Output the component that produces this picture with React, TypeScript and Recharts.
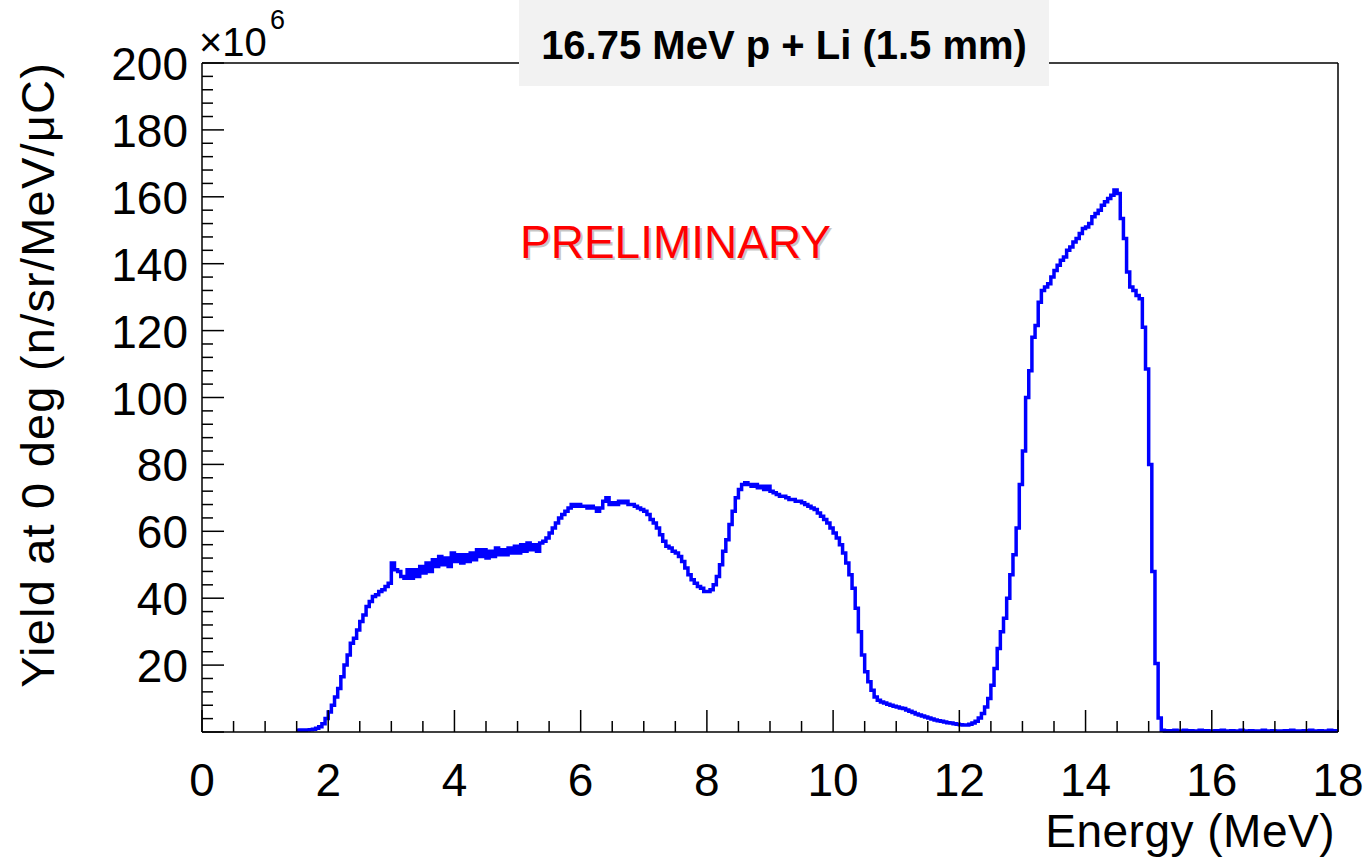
import React from "react";
import { LineChart, Line, XAxis, YAxis, ReferenceLine } from "recharts";

// Histogram: yield at 0 deg (x10^6 n/sr/MeV/uC), bins of 0.05 MeV starting at 1.50 MeV
const binStart = 1.5;
const binWidth = 0.05;
const yieldValues: number[] = [
  // 1.50 - 2.95
  0.5, 0.6, 0.5, 0.6, 0.7, 0.8, 1.1, 1.6, 2.5, 4,
  6, 8, 10.5, 13, 16.5, 20, 23, 26.5, 28, 30.5,
  33, 35, 37.5, 39, 40.5, 41, 42, 42.5, 43.5, 44.5,
  // 3.00 - 5.45
  50.5, 48.5, 48, 46.5, 46, 48.5, 46, 48.5, 46.5, 49.5,
  47.5, 50.5, 48, 51.5, 49.5, 52.5, 50, 52, 49.5, 53.5,
  51, 53, 50.5, 53, 51, 53.5, 51.5, 54.5, 52.5, 54.5,
  52, 54, 52.5, 55, 53, 54.5, 53, 55, 53.5, 55.5,
  53.5, 56, 54, 56.5, 54.5, 56, 54, 56.5, 57, 58,
  // 5.50 - 7.95
  59.5, 61, 62.5, 64, 65, 66, 67, 68, 67.5, 68,
  67.5, 67.5, 67, 67.5, 67, 66, 67, 69, 70, 68,
  68.5, 68, 69, 68.5, 69, 68, 68, 67.5, 67, 66.5,
  66, 65, 63.5, 62.5, 61, 59, 57, 55.5, 55, 54,
  53.5, 52.5, 51, 49, 47, 45.5, 44.5, 43.5, 43, 42,
  // 8.00 - 10.45
  42, 42.5, 44, 46.5, 50, 54, 57.5, 62, 66, 70,
  72.5, 74, 74.5, 74, 73.5, 74, 73, 73.5, 72.5, 73.5,
  72, 71.5, 71, 70.5, 70.5, 70, 69.5, 69.5, 69, 69,
  68.5, 68, 67.5, 67, 66.5, 65.5, 64.5, 63.5, 62.5, 61,
  59.5, 58, 56, 53.5, 50.5, 47, 43, 37, 30, 23,
  // 10.50 - 12.95
  18, 15, 12.5, 10.5, 9.5, 9, 8.7, 8.3, 8, 7.7,
  7.5, 7.2, 7, 6.6, 6.2, 5.8, 5.4, 5.1, 4.8, 4.5,
  4.2, 3.9, 3.6, 3.4, 3.2, 3.0, 2.8, 2.7, 2.5, 2.3,
  2.2, 2.1, 2.1, 2.3, 2.7, 3.2, 4.2, 5.5, 7.5, 10,
  14, 19, 25, 30, 34, 40, 47, 53, 61, 74,
  // 13.00 - 15.45
  84, 100, 108, 118, 121.5, 128.5, 132, 133, 134, 136,
  138, 139.5, 141, 142, 144, 145, 146.5, 147.5, 149, 150.5,
  151, 152, 154, 155, 156, 157.5, 158.5, 159.5, 160.5, 162,
  161, 153.5, 147.5, 137.5, 133, 132, 130.5, 129.5, 121, 108.5,
  80, 48, 20.5, 4.2, 0.5, 0.3, 0.4, 0.3, 0.5, 0.3,
  // 15.50 - 17.95
  0.3, 0.5, 0.3, 0.4, 0.3, 0.3, 0.5, 0.3, 0.4, 0.3,
  0.3, 0.4, 0.3, 0.5, 0.3, 0.3, 0.4, 0.3, 0.3, 0.5,
  0.3, 0.3, 0.4, 0.3, 0.3, 0.3, 0.5, 0.3, 0.3, 0.4,
  0.3, 0.3, 0.3, 0.4, 0.3, 0.5, 0.3, 0.3, 0.3, 0.4,
  0.3, 0.5, 0.3, 0.3, 0.4, 0.3, 0.3, 0.5, 0.3, 0.4,
];

const xMajorTicks = [0, 2, 4, 6, 8, 10, 12, 14, 16, 18];
const xMinorStep = 0.5;
const yMajorTicks = [0, 20, 40, 60, 80, 100, 120, 140, 160, 180, 200];
const yMinorStep = 4;
const yTickLabels = ["", "20", "40", "60", "80", "100", "120", "140", "160", "180", "200"];

const titleText = "16.75 MeV p + Li (1.5 mm)";
const xTitle = "Energy (MeV)";
const yTitle = "Yield at 0 deg (n/sr/MeV/\u03bcC)";
const watermark = "PRELIMINARY";

const data = yieldValues.map((v, i) => ({
  energy: Math.round((binStart + i * binWidth) * 100) / 100,
  y: v,
}));
data.push({
  energy: Math.round((binStart + yieldValues.length * binWidth) * 100) / 100,
  y: yieldValues[yieldValues.length - 1],
});

const xTicks: number[] = [];
for (let v = 0; v <= 18 + 1e-9; v += xMinorStep) xTicks.push(Math.round(v * 10) / 10);
const yTicks: number[] = [];
for (let v = 0; v <= 200 + 1e-9; v += yMinorStep) yTicks.push(v);

const FONT = "'Liberation Sans', Arial, Helvetica, sans-serif";
const W = 1369;
const H = 859;
const MAJOR = 22;
const MINOR = 11;
const X_AXIS_H = 60;
const Y_AXIS_W = 60;

const XTick = (props: any) => {
  const { x, y, payload } = props;
  const v = payload.value as number;
  const major = xMajorTicks.includes(v);
  return (
    <g>
      <line x1={x} x2={x} y1={y} y2={y - (major ? MAJOR : MINOR)} stroke="#000" strokeWidth={1.5} />
      {major && (
        <text x={x} y={y + 64} textAnchor="middle" fontFamily={FONT} fontSize={46} fill="#000">
          {v}
        </text>
      )}
    </g>
  );
};

const YTick = (props: any) => {
  const { x, y, payload } = props;
  const v = payload.value as number;
  const idx = yMajorTicks.indexOf(v);
  const major = idx >= 0;
  return (
    <g>
      <line x1={x} x2={x + (major ? MAJOR : MINOR)} y1={y} y2={y} stroke="#000" strokeWidth={1.5} />
      {major && yTickLabels[idx] !== "" && (
        <text x={x - 14} y={y + 17} textAnchor="end" fontFamily={FONT} fontSize={46} fill="#000">
          {yTickLabels[idx]}
        </text>
      )}
    </g>
  );
};

export default function App() {
  return (
    <div style={{ position: "absolute", left: 0, top: 0, width: W, height: H, background: "#fff" }}>
      <LineChart
        width={W}
        height={H}
        data={data}
        margin={{ top: 63, right: 31, bottom: 127 - X_AXIS_H, left: 202 - Y_AXIS_W }}
      >
        <XAxis
          dataKey="energy"
          type="number"
          domain={[0, 18]}
          ticks={xTicks}
          interval={0}
          tickSize={0}
          tickMargin={0}
          tickLine={false}
          height={X_AXIS_H}
          axisLine={{ stroke: "#000", strokeWidth: 1.5 }}
          tick={<XTick />}
        />
        <YAxis
          type="number"
          domain={[0, 200]}
          ticks={yTicks}
          interval={0}
          tickSize={0}
          tickMargin={0}
          tickLine={false}
          width={Y_AXIS_W}
          axisLine={{ stroke: "#000", strokeWidth: 1.5 }}
          tick={<YTick />}
        />
        <ReferenceLine y={200} stroke="#000" strokeWidth={1.5} />
        <ReferenceLine x={18} stroke="#000" strokeWidth={1.5} />
        <Line
          type="stepAfter"
          dataKey="y"
          stroke="#0000ff"
          strokeWidth={3.5}
          dot={false}
          isAnimationActive={false}
        />
      </LineChart>
      <svg
        width={W}
        height={H}
        style={{ position: "absolute", left: 0, top: 0, pointerEvents: "none" }}
      >
        <rect x={519} y={0} width={530} height={86} fill="#f2f2f2" />
        <text x={784} y={59} textAnchor="middle" fontFamily={FONT} fontWeight="bold" fontSize={40} fill="#000">
          {titleText}
        </text>
        <text x={199} y={56} fontFamily={FONT} fontSize={40} fill="#000">
          {"\u00d710"}
        </text>
        <text x={270} y={29} fontFamily={FONT} fontSize={27} fill="#000">
          6
        </text>
        <text x={522} y={260} fontFamily={FONT} fontSize={46} fill="#999" opacity={0.55}>
          {watermark}
        </text>
        <text x={520} y={258} fontFamily={FONT} fontSize={46} fill="#ff0000">
          {watermark}
        </text>
        <text
          x={1335}
          y={847}
          textAnchor="end"
          fontFamily={FONT}
          fontSize={46}
          letterSpacing={0.5}
          fill="#000"
        >
          {xTitle}
        </text>
        <text
          x={54}
          y={62}
          textAnchor="end"
          transform="rotate(-90 54 62)"
          fontFamily={FONT}
          fontSize={47}
          letterSpacing={1.2}
          fill="#000"
        >
          {yTitle}
        </text>
      </svg>
    </div>
  );
}
